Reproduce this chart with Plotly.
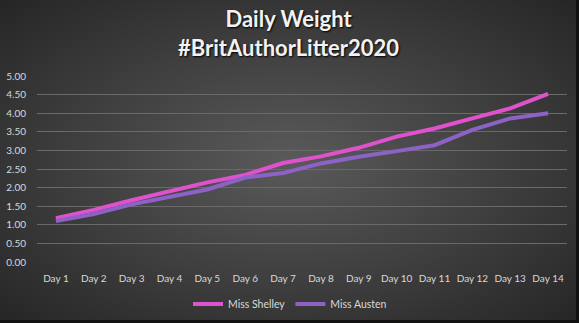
import base64
import plotly.graph_objects as go

days = ["Day 1", "Day 2", "Day 3", "Day 4", "Day 5", "Day 6", "Day 7",
        "Day 8", "Day 9", "Day 10", "Day 11", "Day 12", "Day 13", "Day 14"]
shelley = [1.18, 1.40, 1.66, 1.89, 2.14, 2.34, 2.66, 2.84, 3.07, 3.37, 3.59, 3.86, 4.13, 4.52]
austen = [1.10, 1.29, 1.55, 1.75, 1.95, 2.27, 2.39, 2.65, 2.83, 2.98, 3.14, 3.55, 3.86, 4.00]
y_ticks = [0, 0.5, 1, 1.5, 2, 2.5, 3, 3.5, 4, 4.5, 5]
title_text = "<b>Daily Weight</b><br><b>#BritAuthorLitter2020</b>"

W, H = 579, 323
L, R, T, B = 37, 12, 76, 61
PW, PH = W - L - R, H - T - B

svg = """<svg xmlns='http://www.w3.org/2000/svg' width='579' height='323' viewBox='0 0 579 323' preserveAspectRatio='none'>
<defs><radialGradient id='g' cx='50%' cy='50%' r='70%'>
<stop offset='0%' stop-color='#5a5a5a'/><stop offset='100%' stop-color='#262626'/></radialGradient></defs>
<rect width='579' height='323' fill='url(#g)'/></svg>"""
bg_uri = "data:image/svg+xml;base64," + base64.b64encode(svg.encode()).decode()

fig = go.Figure()
fig.add_trace(go.Scatter(x=days, y=shelley, name="Miss Shelley", mode="lines",
                         line=dict(color="#E052CD", width=4)))
fig.add_trace(go.Scatter(x=days, y=austen, name="Miss Austen", mode="lines",
                         line=dict(color="#8C62C6", width=4)))

def px_x(p):
    return (p - L) / PW

def px_y(p):
    return (H - B - p) / PH

fig.update_layout(
    width=W, height=H,
    margin=dict(l=L, r=R, t=T, b=B, autoexpand=False),
    paper_bgcolor="#3f3f3f",
    plot_bgcolor="rgba(0,0,0,0)",
    font=dict(family="Lato, Calibri, sans-serif", color="#D9D9D9", size=10),
    legend=dict(orientation="h", x=px_x(290), xanchor="center", y=px_y(304), yanchor="middle",
                font=dict(size=10.5, color="#D9D9D9"), itemwidth=30,
                bgcolor="rgba(0,0,0,0)"),
    images=[dict(source=bg_uri, xref="paper", yref="paper", x=px_x(0), y=px_y(0),
                 sizex=W / PW, sizey=H / PH, xanchor="left", yanchor="top",
                 sizing="stretch", layer="below")],
)
fig.add_annotation(text=title_text, xref="paper", yref="paper",
                   x=px_x(288), y=px_y(33), xanchor="center", yanchor="middle",
                   showarrow=False,
                   font=dict(family="Lato, Calibri, sans-serif", size=22, color="#F2F2F2",
                             shadow="1px 1px 2px #000000"))

fig.update_xaxes(showgrid=False, showline=False, zeroline=False, automargin=False,
                 ticks="outside", ticklen=7, tickcolor="rgba(0,0,0,0)",
                 tickfont=dict(size=10, color="#D9D9D9"), range=[-0.5, 13.5])
fig.update_yaxes(range=[0, 5], tickvals=y_ticks, tickformat=".2f", automargin=False,
                 showgrid=True, gridcolor="#6a6a6a", gridwidth=1, zeroline=False,
                 showline=False, ticks="outside", ticklen=8, tickcolor="rgba(0,0,0,0)",
                 tickfont=dict(size=10, color="#D9D9D9"))

# dark frame strips on right and bottom edges
fig.add_shape(type="rect", xref="paper", yref="paper",
              x0=px_x(576), x1=px_x(W), y0=px_y(H), y1=px_y(0),
              fillcolor="#111111", line=dict(width=0), layer="above")
fig.add_shape(type="rect", xref="paper", yref="paper",
              x0=px_x(0), x1=px_x(W), y0=px_y(H), y1=px_y(320),
              fillcolor="#111111", line=dict(width=0), layer="above")

fig.write_html("out.html")
